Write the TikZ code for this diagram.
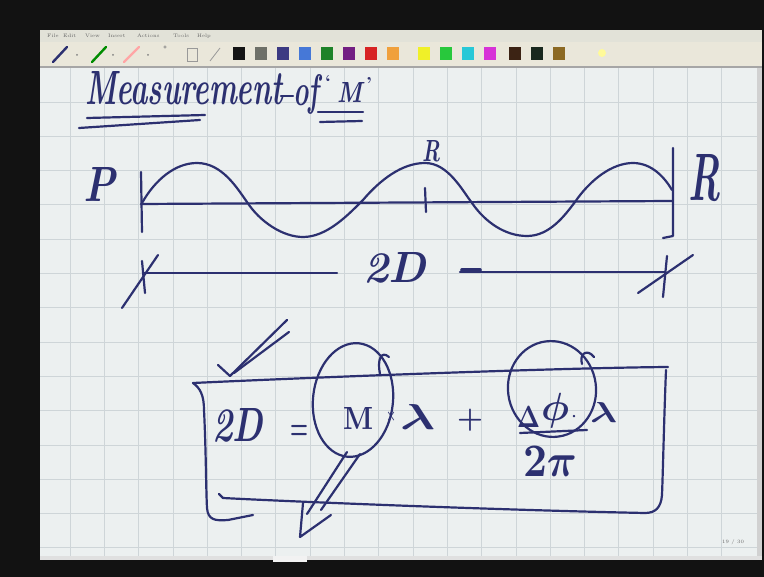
\documentclass[tikz,border=0pt]{standalone}
\usetikzlibrary{shapes.geometric}
\definecolor{inkc}{RGB}{44,48,112}
\definecolor{canvasc}{RGB}{236,240,240}
\definecolor{gridc}{RGB}{206,213,216}
\definecolor{menuc}{RGB}{226,226,216}
\definecolor{toolc}{RGB}{234,231,218}
\definecolor{swa}{RGB}{20,20,20}
\definecolor{swb}{RGB}{110,112,104}
\definecolor{swc}{RGB}{60,58,130}
\definecolor{swd}{RGB}{70,120,215}
\definecolor{swe}{RGB}{30,130,40}
\definecolor{swf}{RGB}{115,30,130}
\definecolor{swg}{RGB}{215,35,35}
\definecolor{swh}{RGB}{240,160,60}
\definecolor{swi}{RGB}{240,240,40}
\definecolor{swj}{RGB}{40,200,60}
\definecolor{swk}{RGB}{40,200,215}
\definecolor{swl}{RGB}{215,50,215}
\definecolor{swm}{RGB}{60,35,20}
\definecolor{swn}{RGB}{25,40,30}
\definecolor{swo}{RGB}{140,105,35}
\newcommand\rsz[3]{\resizebox{#1pt}{#2pt}{#3}}
\begin{document}
\begin{tikzpicture}[x=1pt,y=-1pt,
  ink/.style={draw=inkc,line width=2.2pt,line cap=round,line join=round},
  inktxt/.style={inner sep=0pt,outer sep=0pt,text=inkc,anchor=base west,font=\bfseries\boldmath},
  inkmid/.style={inner sep=0pt,outer sep=0pt,text=inkc,anchor=center,font=\bfseries\boldmath},
  menutxt/.style={inner sep=0pt,anchor=west,text=black!60,font=\fontsize{5}{5}\selectfont},
  gridline/.style={draw=gridc,line width=0.8pt}]
\useasboundingbox (0,0) rectangle (764,577);
% screen frame
\fill[black!93] (0,0) rectangle (764,577);
\fill[menuc] (40,30) rectangle (762,42);
\fill[toolc] (40,42) rectangle (762,66);
\fill[black!35] (40,66) rectangle (762,68);
\fill[canvasc] (40,68) rectangle (757,556);
\fill[black!18] (757,68) rectangle (762,556);
\fill[black!12] (40,556) rectangle (762,560);
\fill[white!90!gray] (273,556) rectangle (307,562);
% grid
\foreach \k in {-10,...,9} \draw[gridline] ({413+34.3*\k},68) -- ({413+34.3*\k},556);
\foreach \k in {0,...,13} \draw[gridline] (40,{102+34.3*\k}) -- (757,{102+34.3*\k});
% menu
\node[menutxt] (mfile) at (47,36) {File};
\node[menutxt] (medit) at (63,36) {Edit};
\node[menutxt] (mview) at (85,36) {View};
\node[menutxt] (minsert) at (108,36) {Insert};
\node[menutxt] (mactions) at (137,36) {Actions};
\node[menutxt] (mtools) at (173,36) {Tools};
\node[menutxt] (mhelp) at (197,36) {Help};
% toolbar icons
\draw[inkc,line width=2.4pt,line cap=round] (53,62) -- (67,47);
\draw[green!55!black,line width=2.4pt,line cap=round] (92,62) -- (106,47);
\draw[red!35,line width=2.4pt,line cap=round] (124,62) -- (139,47);
\fill[black!50] (77,55) circle (1); \fill[black!50] (113,55) circle (1); \fill[black!50] (148,55) circle (1);
\draw[black!45,line width=0.6pt] (165,47) circle (1.2);
\draw[black!40,line width=0.8pt] (187,48) rectangle (197,61);
\draw[black!40,line width=0.8pt] (210,61) -- (220,48);
\foreach \c/\x in {swa/239,swb/261,swc/283,swd/305,swe/327,swf/349,swg/371,swh/393,swi/424,swj/446,swk/468,swl/490,swm/515,swn/537,swo/559}
  \fill[\c] (\x-6,47) rectangle (\x+6,60);
\fill[yellow!40] (602,53) circle (4);
\node[menutxt] (pageno) at (722,542) {19 / 30};
% title
\node[inktxt] (title) at (85,105) {\rsz{198}{33}{\itshape Measurement}};
\draw[ink] (281,96) -- (293,96);
\node[inktxt] (of) at (293,106) {\rsz{26}{31}{\itshape of}};
\node[inktxt] (ql) at (325,88) {\rsz{6}{12}{`}};
\node[inktxt] (mq) at (337,103) {\rsz{25}{20}{\itshape M}};
\node[inktxt] (qr) at (366,90) {\rsz{6}{12}{'}};
\draw[ink] (87,118) -- (205,115);
\draw[ink] (79,128) -- (200,120);
\draw[ink] (318,112) -- (363,112);
\draw[ink] (320,122) -- (362,121);
% wave figure
\node[inktxt] (P) at (84,202) {\rsz{32}{34}{\itshape P}};
\node[inktxt] (Rmid) at (422,162) {\rsz{18}{21}{\itshape R}};
\node[inktxt] (Rr) at (688,201) {\rsz{32}{46}{\itshape R}};
\draw[ink] (141,172) -- (142,232);
\draw[ink] (141,204) -- (672,201);
\draw[ink] (425,188) -- (426,212);
\draw[ink] (673,148) -- (673,236) -- (663,238);
\draw[ink] (142,203) .. controls (155,180) and (175,163) .. (197,163)
  .. controls (222,163) and (237,188) .. (247,202)
  .. controls (260,222) and (283,237) .. (303,237)
  .. controls (327,237) and (348,215) .. (363,200)
  .. controls (380,180) and (402,163) .. (425,163)
  .. controls (448,163) and (462,190) .. (472,203)
  .. controls (485,222) and (505,236) .. (527,236)
  .. controls (550,236) and (565,215) .. (575,202)
  .. controls (590,180) and (612,163) .. (633,163)
  .. controls (652,163) and (665,178) .. (672,190);
% dimension line
\node[inktxt] (twoD) at (363,283) {\rsz{63}{30}{\itshape 2D}};
\coordinate (xl) at (143,273);
\coordinate (xr) at (665,272);
\coordinate (xlend) at (337,273);
\coordinate (xrstart) at (460,272);
\draw[ink] (xl) -- (xlend);
\draw[ink] (122,308) -- (158,255);
\draw[ink] (142,261) -- (145,293);
\draw[ink] (xrstart) -- (xr);
\draw[ink,line width=3.6pt] (462,270) -- (480,270);
\draw[ink] (638,293) -- (693,255);
\draw[ink] (667,256) -- (663,297);
% check mark
\draw[ink] (218,365) -- (230,376) -- (287,320);
\draw[ink] (234,373) -- (289,332);
% box
\draw[ink] (193,383) .. controls (300,378) and (550,368) .. (668,367);
\draw[ink] (666,370) .. controls (664,420) and (663,470) .. (662,495)
  .. controls (661,508) and (655,513) .. (645,513)
  .. controls (500,510) and (300,502) .. (223,498) -- (219,494);
\draw[ink] (193,383) .. controls (200,388) and (204,395) .. (204,410)
  .. controls (206,450) and (206,490) .. (207,508)
  .. controls (208,520) and (215,521) .. (228,520) -- (253,515);
% equation
\node[inktxt] (eqD) at (212,442) {\rsz{51}{33}{\itshape 2D}};
\node[inktxt] (eq) at (290,440) {\rsz{18}{14}{$=$}};
\node[inktxt] (M) at (343,430) {\rsz{30}{22}{\bfseries M}};
\node[inkmid] (times) at (391,417) {\rsz{10}{10}{$\times$}};
\node[inktxt] (lam1) at (400,430) {\rsz{35}{25}{$\lambda$}};
\node[inkmid] (plus) at (470,420) {\resizebox{26pt}{!}{$+$}};
\node[inktxt] (Delta) at (517,428) {\rsz{23}{21}{$\Delta$}};
\node[inkmid] (phi) at (555,411) {\resizebox{28pt}{!}{$\phi$}};
\node[inkmid] (dot) at (574,417) {\resizebox{5pt}{!}{$\cdot$}};
\node[inktxt] (lam2) at (590,423) {\rsz{27}{20}{$\lambda$}};
\draw[ink] (520,433) -- (587,430);
\node[inktxt] (twopi) at (523,477) {\rsz{54}{30}{$2\pi$}};
\node[ink,ellipse,minimum width=80pt,minimum height=114pt,inner sep=0pt,rotate=-6] (mcirc) at (353,400) {};
\draw[ink] (380,374) .. controls (377,360) and (381,350) .. (389,357);
\node[ink,ellipse,minimum width=88pt,minimum height=96pt,inner sep=0pt,rotate=8] (pcirc) at (552,389) {};
\draw[ink] (582,364) .. controls (579,354) and (587,348) .. (594,357);
% arrow
\coordinate (atip) at (300,537);
\draw[ink] (347,452) -- (307,514);
\draw[ink] (360,454) -- (321,510);
\draw[ink] (303,503) -- (atip) -- (331,515);
\end{tikzpicture}
\end{document}
